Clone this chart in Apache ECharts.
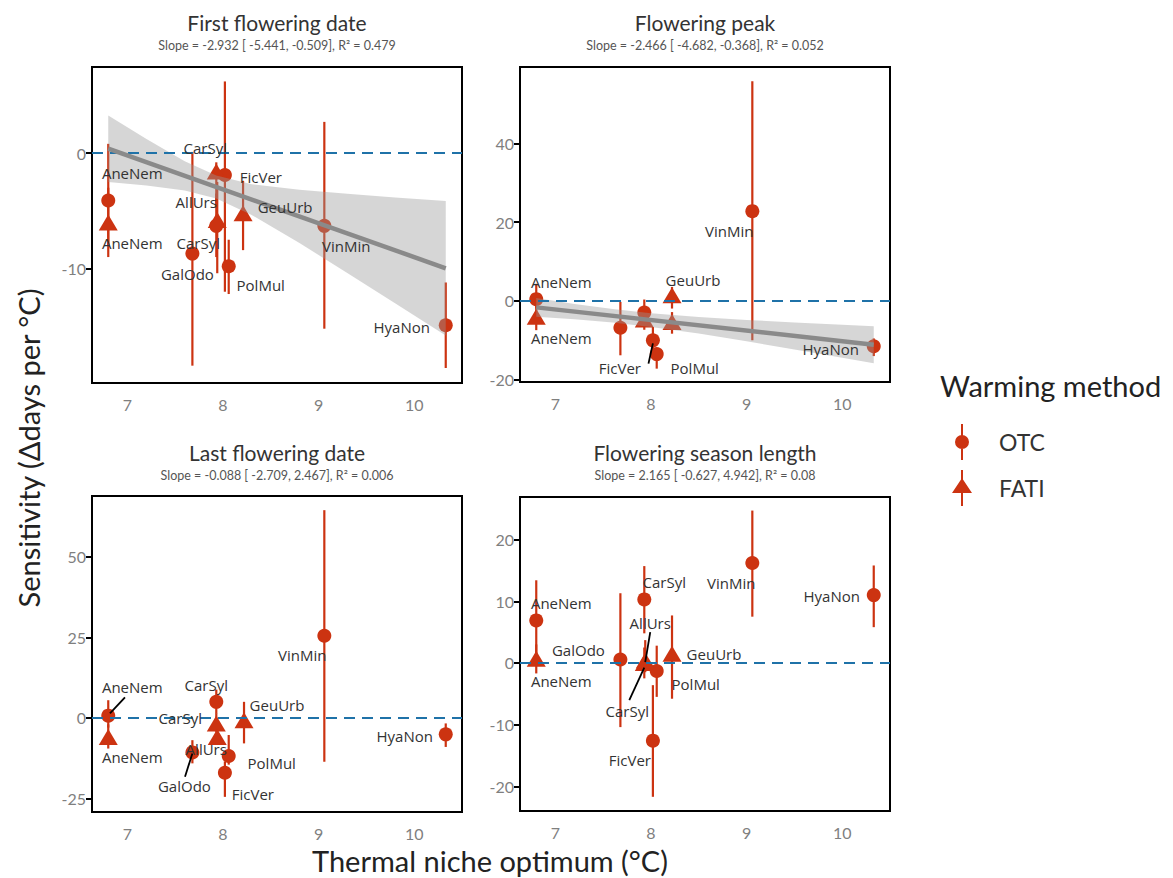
<!DOCTYPE html>
<html><head><meta charset="utf-8">
<script src="https://cdn.jsdelivr.net/npm/echarts@6/dist/echarts.min.js"></script>
<style>html,body{margin:0;padding:0;background:#fff}#c{width:1173px;height:878px}</style>
</head><body><div id="c"></div>
<script>
// ---------------- DATA ----------------
const xTicks = [7, 8, 9, 10];
const yTicksFirst = [-10, 0];
const yTicksPeak = [-20, 0, 20, 40];
const yTicksLast = [-25, 0, 25, 50];
const yTicksLength = [-20, -10, 0, 10, 20];
const panelTitles = ['First flowering date', 'Flowering peak', 'Last flowering date', 'Flowering season length'];
const panelSubtitles = [
  'Slope = -2.932 [ -5.441, -0.509], R² = 0.479',
  'Slope = -2.466 [ -4.682, -0.368], R² = 0.052',
  'Slope = -0.088 [ -2.709, 2.467], R² = 0.006',
  'Slope = 2.165 [ -0.627, 4.942], R² = 0.08'
];
const methods = ['OTC', 'FATI'];
// rows: [thermal niche optimum, sensitivity, lower, upper, species]
const firstOTC = [
  [6.80, -4.1, -8.0, 0.8, 'AneNem'],
  [7.68, -8.7, -18.4, 0.1, 'GalOdo'],
  [7.93, -6.3, -9.0, -3.5, 'CarSyl'],
  [8.02, -1.9, -12.0, 6.2, 'FicVer'],
  [8.06, -9.8, -12.2, -7.5, 'PolMul'],
  [9.06, -6.3, -15.2, 2.7, 'VinMin'],
  [10.33, -14.9, -18.6, -11.2, 'HyaNon']
];
const firstFATI = [
  [6.80, -6.0, -9.0, -3.0, 'AneNem'],
  [7.93, -1.6, -4.5, -0.8, 'CarSyl'],
  [7.94, -5.8, -10.4, -2.5, 'AllUrs'],
  [8.21, -5.2, -8.4, -2.4, 'GeuUrb']
];
const peakOTC = [
  [6.80, 0.4, -2.0, 4.3, 'AneNem'],
  [7.68, -6.9, -13.9, -0.3, 'GalOdo'],
  [7.93, -3.0, -7.4, 0.3, 'CarSyl'],
  [8.02, -10.1, -12.6, -6.7, 'FicVer'],
  [8.06, -13.6, -17.3, -12.6, 'PolMul'],
  [9.06, 22.8, -10.1, 55.9, 'VinMin'],
  [10.33, -11.6, -14.1, -9.6, 'HyaNon']
];
const peakFATI = [
  [6.80, -4.1, -7.5, -1.0, 'AneNem'],
  [7.93, -4.8, -6.5, -2.0, 'CarSyl'],
  [8.22, -5.4, -8.4, -2.9, 'AllUrs'],
  [8.22, 1.4, -2.0, 3.5, 'GeuUrb']
];
const lastOTC = [
  [6.80, 0.7, -3.0, 5.5, 'AneNem'],
  [7.68, -10.7, -14.1, -6.9, 'GalOdo'],
  [7.93, 5.0, 1.4, 8.8, 'CarSyl'],
  [8.02, -17.0, -24.5, -13.5, 'FicVer'],
  [8.06, -11.8, -14.5, -5.3, 'PolMul'],
  [9.06, 25.5, -13.6, 64.5, 'VinMin'],
  [10.33, -5.1, -9.0, -1.7, 'HyaNon']
];
const lastFATI = [
  [6.80, -5.9, -9.5, -2.0, 'AneNem'],
  [7.93, -1.7, -4.5, 1.5, 'CarSyl'],
  [7.94, -5.9, -8.4, -3.5, 'AllUrs'],
  [8.22, -0.7, -7.9, 5.0, 'GeuUrb']
];
const lengthOTC = [
  [6.80, 6.9, 1.0, 13.4, 'AneNem'],
  [7.68, 0.55, -10.4, 11.3, 'GalOdo'],
  [7.93, 10.3, 4.8, 15.7, 'CarSyl'],
  [8.02, -12.6, -21.7, -3.6, 'FicVer'],
  [8.06, -1.3, -5.5, 2.8, 'PolMul'],
  [9.06, 16.2, 7.5, 24.7, 'VinMin'],
  [10.33, 11.0, 5.8, 15.8, 'HyaNon']
];
const lengthFATI = [
  [6.80, 0.7, -1.7, 3.0, 'AneNem'],
  [7.93, 0.0, -2.5, 2.5, 'CarSyl'],
  [7.94, 0.4, -1.5, 3.7, 'AllUrs'],
  [8.22, 1.5, -5.8, 7.7, 'GeuUrb']
];
// regression fits and confidence bands: [x, y] and [x, lower, upper]
const firstFit = [[6.80, 0.38], [10.33, -9.97]];
const firstBand = [
  [6.80, -2.50, 3.26], [7.20, -2.80, 1.22], [7.60, -3.24, -0.70], [7.93, -3.93, -1.93],
  [8.30, -5.35, -2.69], [8.80, -7.79, -3.17], [9.30, -10.37, -3.53], [9.80, -13.00, -3.84],
  [10.33, -15.79, -4.15]
];
const peakFit = [[6.80, -1.7], [10.33, -11.2]];
const peakBand = [
  [6.80, -4.10, 0.70], [7.20, -4.75, -0.81], [7.60, -5.58, -2.12], [8.00, -6.67, -3.19],
  [8.50, -8.38, -4.16], [9.00, -10.33, -4.91], [9.50, -12.40, -5.52], [10.00, -14.51, -6.11],
  [10.33, -15.90, -6.50]
];

// ---------------- LAYOUT / STYLE ----------------
const RED = '#cc3311';
const BLUE = '#1f72a8';
const panels = [
  {key: 'first', otc: firstOTC, fati: firstFATI, fit: firstFit, band: firstBand, yt: yTicksFirst, ymin: -19.9, ymax: 7.45,
   grid: {left: 92, top: 67, width: 370, height: 316}, tx: 277, ty: 22},
  {key: 'peak', otc: peakOTC, fati: peakFATI, fit: peakFit, band: peakBand, yt: yTicksPeak, ymin: -20.7, ymax: 59.5,
   grid: {left: 520, top: 67, width: 370, height: 315}, tx: 705, ty: 22},
  {key: 'last', otc: lastOTC, fati: lastFATI, fit: null, band: null, yt: yTicksLast, ymin: -29.2, ymax: 68.9,
   grid: {left: 92, top: 496, width: 370, height: 316}, tx: 277, ty: 452},
  {key: 'length', otc: lengthOTC, fati: lengthFATI, fit: null, band: null, yt: yTicksLength, ymin: -24.0, ymax: 26.9,
   grid: {left: 520, top: 497, width: 370, height: 314}, tx: 705, ty: 452}
];
// label offsets in px from the point: [dx, dy, (leader x1, y1, x2, y2)]
const labelOffsets = {
  'first|OTC|AneNem': [24, -27], 'first|OTC|GalOdo': [-5, 20], 'first|OTC|CarSyl': [-18, 17],
  'first|OTC|FicVer': [36, 2], 'first|OTC|PolMul': [32, 19], 'first|OTC|VinMin': [22, 20],
  'first|OTC|HyaNon': [-44, 2],
  'first|FATI|AneNem': [24, 21], 'first|FATI|CarSyl': [-11, -24], 'first|FATI|AllUrs': [-21, -18],
  'first|FATI|GeuUrb': [42, -6],
  'peak|OTC|AneNem': [25, -17], 'peak|OTC|FicVer': [-33, 28, 0, 3, -4.4, 23.3], 'peak|OTC|PolMul': [38, 14],
  'peak|OTC|VinMin': [-23, 20], 'peak|OTC|HyaNon': [-43, 3],
  'peak|FATI|AneNem': [25, 21], 'peak|FATI|GeuUrb': [21, -15],
  'last|OTC|AneNem': [24, -29, 1.7, -2.4, 16.7, -18.4], 'last|OTC|GalOdo': [-8, 34, 0, 1, -7.4, 24.4],
  'last|OTC|CarSyl': [-10, -17], 'last|OTC|FicVer': [28, 21], 'last|OTC|PolMul': [43, 7],
  'last|OTC|VinMin': [-22, 19], 'last|OTC|HyaNon': [-41, 2],
  'last|FATI|AneNem': [24, 20], 'last|FATI|CarSyl': [-36, -5], 'last|FATI|AllUrs': [-11, 12],
  'last|FATI|GeuUrb': [33, -15],
  'length|OTC|AneNem': [25, -17], 'length|OTC|GalOdo': [-42, -10], 'length|OTC|CarSyl': [20, -17],
  'length|OTC|FicVer': [-23, 19], 'length|OTC|PolMul': [39, 13], 'length|OTC|VinMin': [-21, 20],
  'length|OTC|HyaNon': [-42, 1],
  'length|FATI|AneNem': [25, 22], 'length|FATI|CarSyl': [-17, 48, 0, 4.7, -15, 37.3],
  'length|FATI|AllUrs': [5, -37, 5, -28.3, 0, 1.7], 'length|FATI|GeuUrb': [42, 0]
};

const chart = echarts.init(document.getElementById('c'), null, {renderer: 'svg'});
const grids = [], xAxes = [], yAxes = [], series = [], graphics = [];

panels.forEach((p, i) => {
  grids.push(Object.assign({show: true, borderColor: '#000', borderWidth: 2, backgroundColor: 'transparent'}, p.grid));
  xAxes.push({type: 'value', gridIndex: i, min: 6.63, max: 10.5,
    axisLine: {show: false}, splitLine: {show: false}, axisTick: {show: false},
    axisLabel: {customValues: xTicks, color: '#7f7f7f', fontSize: 16, fontFamily: 'Lato', margin: 13}});
  yAxes.push({type: 'value', gridIndex: i, min: p.ymin, max: p.ymax,
    axisLine: {show: false}, splitLine: {show: false},
    axisTick: {show: true, customValues: p.yt, length: 6, lineStyle: {color: '#000', width: 2}},
    axisLabel: {customValues: p.yt, color: '#7f7f7f', fontSize: 16, fontFamily: 'Lato', margin: 6}});

  const allRows = p.otc.concat(p.fati);
  series.push({
    type: 'custom', name: 'err' + i, xAxisIndex: i, yAxisIndex: i, z: 2, silent: true,
    data: allRows.map(r => [r[0], r[2], r[3]]),
    encode: {x: 0, y: [1, 2]},
    renderItem: (params, api) => {
      const a = api.coord([api.value(0), api.value(1)]);
      const b = api.coord([api.value(0), api.value(2)]);
      return {type: 'line', shape: {x1: a[0], y1: a[1], x2: b[0], y2: b[1]}, style: {stroke: RED, lineWidth: 2.2}};
    },
    markLine: {silent: true, symbol: ['none', 'none'], label: {show: false},
      lineStyle: {color: BLUE, width: 2, type: [11, 7]}, data: [{yAxis: 0}], animation: false}
  });
  series.push({type: 'scatter', name: 'OTC', xAxisIndex: i, yAxisIndex: i, z: 3, silent: true,
    symbol: 'circle', symbolSize: 14, itemStyle: {color: RED, opacity: 1},
    data: p.otc.map(r => [r[0], r[1]])});
  series.push({type: 'scatter', name: 'FATI', xAxisIndex: i, yAxisIndex: i, z: 3, silent: true,
    symbol: 'triangle', symbolSize: [19, 16], itemStyle: {color: RED, opacity: 1},
    data: p.fati.map(r => [r[0], r[1]])});

  if (p.band) {
    const band = p.band;
    series.push({type: 'custom', name: 'band' + i, xAxisIndex: i, yAxisIndex: i, z: 4, silent: true,
      data: band.map(r => [r[0], r[1], r[2]]), encode: {x: 0, y: [1, 2]},
      renderItem: (params, api) => {
        if (params.dataIndex !== 0) return null;
        const top = band.map(r => api.coord([r[0], r[2]]));
        const bot = band.slice().reverse().map(r => api.coord([r[0], r[1]]));
        return {type: 'polygon', shape: {points: top.concat(bot)}, style: {fill: 'rgba(153,153,153,0.4)'}};
      }});
    series.push({type: 'line', name: 'fit' + i, xAxisIndex: i, yAxisIndex: i, z: 5, silent: true,
      data: p.fit, symbol: 'none', showSymbol: false, lineStyle: {color: '#8a8a8a', width: 4.5}, animation: false});
  }

  // labels
  const labs = [];
  [[p.otc, 'OTC'], [p.fati, 'FATI']].forEach(([rows, m]) => {
    rows.forEach(r => {
      const off = labelOffsets[p.key + '|' + m + '|' + r[4]];
      if (off) labs.push({x: r[0], y: r[1], text: r[4], off: off});
    });
  });
  series.push({type: 'custom', name: 'lab' + i, xAxisIndex: i, yAxisIndex: i, z: 6, silent: true,
    data: labs.map((l, k) => [l.x, l.y, k]), encode: {x: 0, y: 1},
    renderItem: (params, api) => {
      const l = labs[api.value(2)];
      const c = api.coord([api.value(0), api.value(1)]);
      const o = l.off;
      const children = [{type: 'text', x: c[0] + o[0], y: c[1] + o[1],
        style: {text: l.text, fill: '#333', font: '15px "Open Sans"', align: 'center', verticalAlign: 'middle'}}];
      if (o.length > 2) {
        children.push({type: 'line', shape: {x1: c[0] + o[2], y1: c[1] + o[3], x2: c[0] + o[4], y2: c[1] + o[5]},
          style: {stroke: '#000', lineWidth: 1.8}});
      }
      return {type: 'group', children: children};
    }});

  graphics.push({type: 'text', x: p.tx, y: p.ty, style: {text: panelTitles[i], fill: '#333',
    font: '21px Lato', align: 'center', verticalAlign: 'middle'}});
  graphics.push({type: 'text', x: p.tx, y: p.ty + 23, style: {text: panelSubtitles[i], fill: '#555',
    font: '12.5px Lato', align: 'center', verticalAlign: 'middle'}});
});

graphics.push({type: 'text', x: 490, y: 860, style: {text: 'Thermal niche optimum (°C)', fill: '#222',
  font: '29px Lato', align: 'center', verticalAlign: 'middle'}});
graphics.push({type: 'text', x: 28, y: 448, rotation: Math.PI / 2, style: {text: 'Sensitivity (Δdays per °C)', fill: '#222',
  font: '29px Lato', align: 'center', verticalAlign: 'middle'}});
graphics.push({type: 'text', x: 940, y: 385, style: {text: 'Warming method', fill: '#222',
  font: '29px Lato', align: 'left', verticalAlign: 'middle'}});

chart.setOption({
  animation: false,
  grid: grids, xAxis: xAxes, yAxis: yAxes, series: series, graphic: graphics,
  legend: {
    data: [
      {name: 'OTC', icon: 'path://M6,0H8V36H6Z M14,18A7,7 0 1,1 0,18A7,7 0 1,1 14,18Z'},
      {name: 'FATI', icon: 'path://M9,0H11V36H9Z M10,8L20,23H0Z'}
    ],
    orient: 'vertical', left: 947, top: 419, itemWidth: 20, itemHeight: 36, itemGap: 10,
    selectedMode: false,
    textStyle: {fontSize: 23, color: '#333', fontFamily: 'Lato', padding: [0, 0, 0, 22]}
  }
});
</script>
</body></html>
